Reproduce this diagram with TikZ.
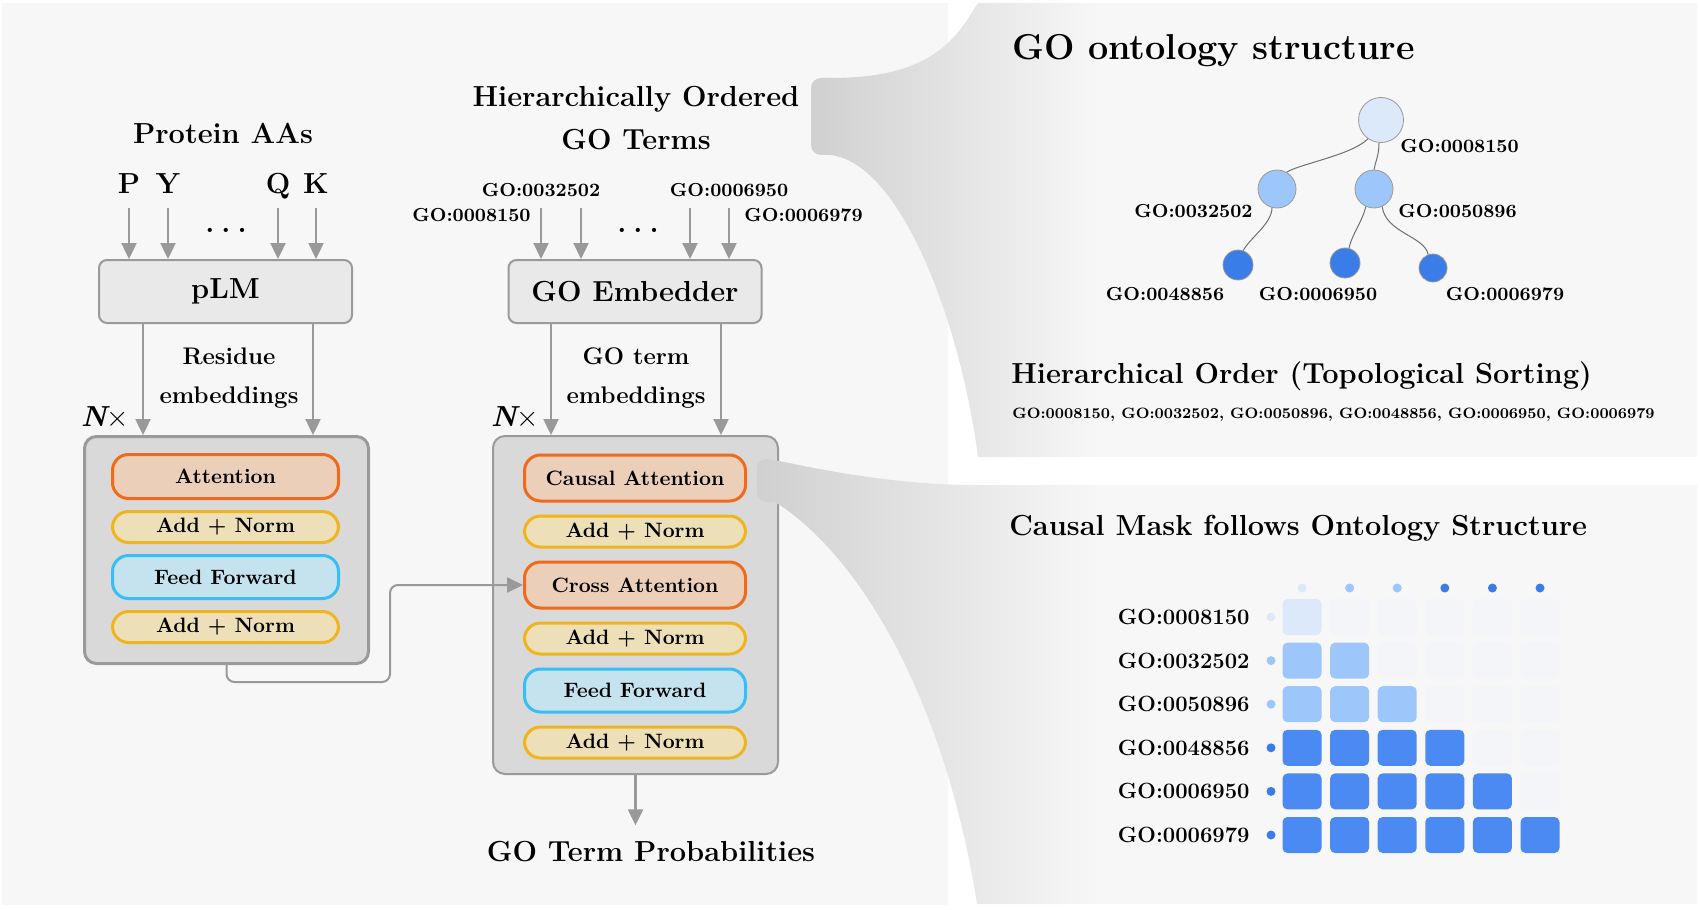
\documentclass[tikz,border=0pt]{standalone}
\usepackage{fontspec}
\usepackage{amsmath}
\usepackage{tikz}
\usetikzlibrary{arrows.meta, positioning}

\definecolor{panelbg}{HTML}{F7F7F7}
\definecolor{calloutgray}{HTML}{D0D0D0}
\definecolor{boxline}{HTML}{9A9A9A}
\definecolor{stackfill}{HTML}{D9D9D9}
\definecolor{modelfill}{HTML}{E9E9E9}
\definecolor{attnline}{HTML}{F06A1C}
\definecolor{attnfill}{HTML}{EBCFB8}
\definecolor{normline}{HTML}{F0B41E}
\definecolor{normfill}{HTML}{EDE0B8}
\definecolor{ffnline}{HTML}{38BEF4}
\definecolor{ffnfill}{HTML}{C4E3EE}
\definecolor{arrowgray}{HTML}{999999}
\definecolor{edgegray}{HTML}{707070}
\definecolor{lvla}{HTML}{DCE9FB}
\definecolor{lvlb}{HTML}{9DC7FA}
\definecolor{lvlc}{HTML}{3B7DE8}
\definecolor{cellc}{HTML}{4A8AF2}
\definecolor{maskoff}{HTML}{F4F5F9}

\tikzstyle{heading} = [inner sep=0pt, align=center, font=\fontsize{14.5}{21.5}\selectfont\bfseries]
\tikzstyle{bigheading} = [inner sep=0pt, font=\fontsize{18}{21}\selectfont\bfseries]
\tikzstyle{sublabel} = [inner sep=0pt, align=center, font=\fontsize{12}{19.5}\selectfont\bfseries]
\tikzstyle{golabel} = [inner sep=0pt, font=\fontsize{9.4}{11}\selectfont\bfseries]
\tikzstyle{aaletter} = [inner sep=0pt, text height=10pt, text depth=0pt, font=\fontsize{14.5}{17}\selectfont\bfseries]
\tikzstyle{model} = [rectangle, rounded corners=4pt, draw=boxline, fill=modelfill, line width=1pt, minimum width=126.5pt, minimum height=31.5pt, font=\fontsize{14.5}{17}\selectfont\bfseries]
\tikzstyle{stackbox} = [rectangle, rounded corners=6pt, draw=boxline, fill=stackfill, line width=1pt]
\tikzstyle{block} = [rectangle, rounded corners=8pt, line width=1.5pt, minimum width=110.5pt, inner sep=0pt, font=\fontsize{10.4}{12}\selectfont\bfseries]
\tikzstyle{attn} = [block, draw=attnline, fill=attnfill, minimum height=23pt]
\tikzstyle{norm} = [block, draw=normline, fill=normfill, minimum height=15.5pt]
\tikzstyle{ffn} = [block, draw=ffnline, fill=ffnfill, minimum height=21.5pt]
\tikzstyle{arrow} = [line width=1.2pt, draw=arrowgray, -{Triangle[length=8pt,width=7.5pt]}]
\tikzstyle{link} = [line width=1pt, draw=arrowgray, rounded corners=4pt, -{Triangle[length=8pt,width=7.5pt]}]
\tikzstyle{term} = [circle, draw=gray!80, line width=0.4pt, inner sep=0pt]
\tikzstyle{treeline} = [draw=edgegray, line width=0.5pt]
\tikzstyle{masklabel} = [inner sep=0pt, font=\fontsize{11}{13}\selectfont\bfseries]
\tikzstyle{maskcell} = [rectangle, rounded corners=2.5pt, inner sep=0pt, minimum width=19.5pt, minimum height=18pt]
\tikzstyle{maskdot} = [circle, inner sep=0pt, minimum size=4.5pt]

\newcommand{\gapdots}{.\hspace{3.5pt}.\hspace{3.5pt}.}

\begin{document}
\begin{tikzpicture}[x=0.5pt, y=-0.5pt, node distance=6pt]
\useasboundingbox (0,0) rectangle (1700,909);

% panels
\fill[panelbg] (2,3) rectangle (948,905);
\fill[panelbg] (978,3) rectangle (1697,457);
\fill[panelbg] (978,485) rectangle (1697,904);

% protein encoder
\node (aas) [heading] at (223,133) {Protein AAs};
\node (aaP) [aaletter] at (129,184) {P};
\node (aaY) [aaletter] at (168,184) {Y};
\node (aaQ) [aaletter] at (278,184) {Q};
\node (aaK) [aaletter] at (316,184) {K};
\node (aadots) [aaletter] at (226,223) {\gapdots};
\node (plm) [model] at (225.5,291.5) {pLM};

\draw [arrow, shorten <=7pt] (aaP) -- (aaP |- plm.north);
\draw [arrow, shorten <=7pt] (aaY) -- (aaY |- plm.north);
\draw [arrow, shorten <=7pt] (aaQ) -- (aaQ |- plm.north);
\draw [arrow, shorten <=7pt] (aaK) -- (aaK |- plm.north);

\node (enc) [stackbox, line width=1.5pt, minimum width=142pt, minimum height=113.5pt] at (226.5,550) {};
\node (encatt) [attn, minimum width=113pt, minimum height=22pt] at (225.5,476.5) {Attention};
\node (encnorm1) [norm, minimum width=113pt, below=5pt of encatt] {Add + Norm};
\node (encffn) [ffn, minimum width=113pt, below=5pt of encnorm1] {Feed Forward};
\node (encnorm2) [norm, minimum width=113pt, below=5pt of encffn] {Add + Norm};

\coordinate (e1) at (143,0);
\coordinate (e2) at (313,0);
\draw [arrow] (plm.south -| e1) -- (enc.north -| e1);
\draw [arrow] (plm.south -| e2) -- (enc.north -| e2);
\node (resid) [sublabel] at (229,378) {Residue\\embeddings};
\node (nenc) [heading] at (105,418) {\itshape N\upshape$\times$};

% GO decoder
\node (goterms) [heading] at (636,118) {Hierarchically Ordered\\GO Terms};
\node (goemb) [model] at (635,291.5) {GO Embedder};
\coordinate (g1) at (541,208);
\coordinate (g2) at (581,208);
\coordinate (g3) at (690,208);
\coordinate (g4) at (729,208);
\draw [arrow] (g1) -- (g1 |- goemb.north);
\draw [arrow] (g2) -- (g2 |- goemb.north);
\draw [arrow] (g3) -- (g3 |- goemb.north);
\draw [arrow] (g4) -- (g4 |- goemb.north);
\node (gin1) [golabel, anchor=east] at (531,215) {GO:0008150};
\node (gin2) [golabel] at (541,190) {GO:0032502};
\node (gin3) [golabel] at (729,190) {GO:0006950};
\node (gin4) [golabel, anchor=west] at (744,215) {GO:0006979};
\node (godots) [aaletter] at (638,223) {\gapdots};

\node (dec) [stackbox, minimum width=142.5pt, minimum height=169pt] at (635.5,605) {};
\node (causal) [attn] at (635,478) {Causal Attention};
\node (decnorm1) [norm, below=of causal] {Add + Norm};
\node (cross) [attn, below=of decnorm1] {Cross Attention};
\node (decnorm2) [norm, below=of cross] {Add + Norm};
\node (decffn) [ffn, below=of decnorm2] {Feed Forward};
\node (decnorm3) [norm, below=of decffn] {Add + Norm};

\coordinate (d1) at (551,0);
\coordinate (d2) at (721,0);
\draw [arrow] (goemb.south -| d1) -- (dec.north -| d1);
\draw [arrow] (goemb.south -| d2) -- (dec.north -| d2);
\node (golab) [sublabel] at (636,378) {GO term\\embeddings};
\node (ndec) [heading] at (515,418) {\itshape N\upshape$\times$};

\coordinate (bend) at (390,640);
\draw [link] (enc.south) -- ++(0,17) -| (bend) |- (cross.west);

\node (prob) [heading] at (651,852) {GO Term Probabilities};
\draw [arrow, shorten >=8pt] (dec.south) -- (dec.south |- prob.north);

% zoom callouts
\shade[left color=calloutgray, right color=panelbg]
  (830,78) .. controls (940,76) and (960,30) .. (978,3) -- (1100,3) -- (1100,457) -- (978,457)
  .. controls (960,320) and (900,162) .. (830,155) [rounded corners=5pt] -- (811,155) -- (811,78) -- cycle;
\shade[left color=calloutgray, right color=panelbg]
  (775,460) .. controls (860,478) and (920,485) .. (978,485) -- (1100,485) -- (1100,904) -- (977,904)
  .. controls (945,700) and (860,555) .. (775,502) [rounded corners=5pt] -- (757,502) -- (757,458) -- cycle;

% ontology tree
\node (ontotitle) [bigheading, anchor=west] at (1012,51) {GO ontology structure};
\node (root) [term, fill=lvla, minimum size=22.5pt] at (1381,120) {};
\node (bp1) [term, fill=lvlb, minimum size=19pt] at (1277,189) {};
\node (bp2) [term, fill=lvlb, minimum size=19pt] at (1374,189) {};
\node (lf1) [term, fill=lvlc, minimum size=15pt] at (1238,265) {};
\node (lf2) [term, fill=lvlc, minimum size=15pt] at (1345,263) {};
\node (lf3) [term, fill=lvlc, minimum size=14pt] at (1433,268) {};

\draw [treeline] (root.235) .. controls +(-15,16) and +(12,-8) .. (bp1.60);
\draw [treeline] (root.265) .. controls +(0,12) and +(2,-10) .. (bp2.north);
\draw [treeline] (bp1.255) .. controls +(0,16) and +(6,-12) .. (lf1.70);
\draw [treeline] (bp2.245) .. controls +(-3,14) and +(3,-14) .. (lf2.75);
\draw [treeline] (bp2.295) .. controls +(3,26) and +(-3,-18) .. (lf3.110);

\node (rootlab) [golabel, anchor=west] at (1400,146) {GO:0008150};
\node (bp1lab) [golabel, anchor=east] at (1253,211) {GO:0032502};
\node (bp2lab) [golabel, anchor=west] at (1398,211) {GO:0050896};
\node (lf1lab) [golabel] at (1165,294) {GO:0048856};
\node (lf2lab) [golabel] at (1318,294) {GO:0006950};
\node (lf3lab) [golabel] at (1505,294) {GO:0006979};

\node (ordtitle) [heading, anchor=west] at (1011,376) {Hierarchical Order (Topological Sorting)};
\node (ordlist) [inner sep=0pt, anchor=west, font=\fontsize{7.5}{10}\selectfont\bfseries] at (1012,415)
  {GO:0008150, GO:0032502, GO:0050896, GO:0048856, GO:0006950, GO:0006979};

% causal mask
\node (masktitle) [heading, anchor=west] at (1009,528) {Causal Mask follows Ontology Structure};
\foreach \j/\col in {1/lvla, 2/lvlb, 3/lvlb, 4/lvlc, 5/lvlc, 6/lvlc}
  \node (cdot\j) [maskdot, fill=\col] at ({1302+47.6*(\j-1)},588) {};
\foreach \i/\lab/\dotc/\cell in {1/GO:0008150/lvla/lvla, 2/GO:0032502/lvlb/lvlb, 3/GO:0050896/lvlb/lvlb,
    4/GO:0048856/lvlc/cellc, 5/GO:0006950/lvlc/cellc, 6/GO:0006979/lvlc/cellc} {
  \node (row\i) [masklabel, anchor=east] at (1250,{617+43.6*(\i-1)}) {\lab};
  \node (rdot\i) [maskdot, fill=\dotc] at (1271,{617+43.6*(\i-1)}) {};
  \foreach \j in {1,...,6} {
    \ifnum\j>\i\relax \def\cellcol{maskoff}\else\def\cellcol{\cell}\fi
    \node (m\i\j) [maskcell, fill=\cellcol] at ({1302+47.6*(\j-1)},{617+43.6*(\i-1)}) {};
  }
}

\end{tikzpicture}
\end{document}
